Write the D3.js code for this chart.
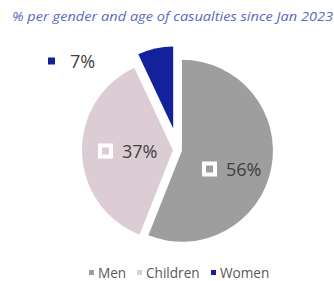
<!DOCTYPE html>
<html><head><meta charset="utf-8">
<script src="https://cdn.jsdelivr.net/npm/d3@7"></script>
<style>body{margin:0;background:#fff}svg{display:block}</style>
</head><body>
<script>
const categories = ["Men", "Children", "Women"];
const values = [56, 37, 7];
const valueLabels = ["56%", "37%", "7%"];
const title = "% per gender and age of casualties since Jan 2023";

const colors = ["#9e9e9e", "#dccdd4", "#13229b"];
const explode = [4, 5, 22];
const radii = [91, 91, 82];
const labelPos = [[202, 169], [98, 151], [48, 61]];
const markerStroke = [true, true, false];

const W = 334, H = 281, cx = 178, cy = 150;
const svg = d3.select("body").append("svg").attr("width", W).attr("height", H);

svg.append("text").attr("x", 12).attr("y", 21)
  .attr("font-family", "Open Sans").attr("font-style", "italic").attr("font-size", 13)
  .attr("fill", "#5a68bd").attr("textLength", 321).attr("lengthAdjust", "spacingAndGlyphs")
  .text(title);

const pie = d3.pie().sort(null).value(d => d)(values);
const g = svg.append("g").attr("transform", `translate(${cx},${cy})`);
pie.forEach((p, i) => {
  const mid = (p.startAngle + p.endAngle) / 2;
  const dx = Math.sin(mid) * explode[i], dy = -Math.cos(mid) * explode[i];
  const arc = d3.arc().innerRadius(0).outerRadius(radii[i]);
  g.append("path").attr("d", arc(p)).attr("fill", colors[i])
    .attr("transform", `translate(${dx},${dy})`);
});

valueLabels.forEach((t, i) => {
  const [x, y] = labelPos[i];
  const lg = svg.append("g").attr("transform", `translate(${x},${y})`);
  if (markerStroke[i]) {
    lg.append("rect").attr("x", 2).attr("y", -5.5).attr("width", 11).attr("height", 11)
      .attr("fill", colors[i]).attr("stroke", "#fff").attr("stroke-width", 4);
  } else {
    lg.append("rect").attr("x", 0).attr("y", -3.5).attr("width", 7).attr("height", 7).attr("fill", colors[i]);
  }
  lg.append("text").attr("x", markerStroke[i] ? 24 : 22).attr("y", 6.5)
    .attr("font-family", "Open Sans").attr("font-size", 18).attr("fill", "#404040").text(t);
});

const legX = [89, 137, 211];
categories.forEach((c, i) => {
  svg.append("rect").attr("x", legX[i]).attr("y", 270).attr("width", 5).attr("height", 5).attr("fill", colors[i]);
  svg.append("text").attr("x", legX[i] + 9).attr("y", 277.5)
    .attr("font-family", "Open Sans").attr("font-size", 13.6).attr("fill", "#595959").text(c);
});
</script>
</body></html>
